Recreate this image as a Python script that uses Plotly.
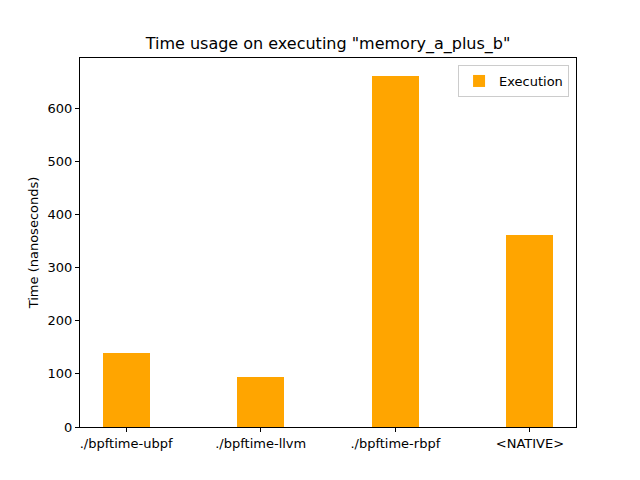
import plotly.graph_objects as go

categories = ["./bpftime-ubpf", "./bpftime-llvm", "./bpftime-rbpf", "<NATIVE>"]
execution = [139, 94, 662, 361]
y_ticks = [0, 100, 200, 300, 400, 500, 600]

positions = list(range(len(categories)))
ymax = max(execution) * 1.05

fig = go.Figure()
fig.add_trace(go.Bar(
    x=positions, y=execution, width=0.35, name="Execution",
    marker=dict(color="orange", line=dict(width=0)),
))

font = "DejaVu Sans"
fig.update_layout(
    width=640, height=480,
    margin=dict(l=72, r=72, t=50, b=61, autoexpand=False),
    paper_bgcolor="white", plot_bgcolor="white",
    font=dict(family=font, size=13, color="black"),
    title=dict(text='Time usage on executing "memory_a_plus_b"', x=0.5, xanchor="center",
               y=1 - 35 / 480, yanchor="middle", font=dict(size=16, family=font)),
    showlegend=True,
    legend=dict(x=0.986, y=0.981, xanchor="right", yanchor="top",
                bgcolor="rgba(255,255,255,0.8)", bordercolor="#cccccc", borderwidth=1,
                font=dict(size=13, family=font), itemwidth=30),
    bargap=0,
)
fig.update_xaxes(
    range=[-0.3425, 3.3425], tickmode="array", tickvals=positions, ticktext=categories,
    tickfont=dict(size=13, family=font),
    showline=True, linecolor="black", linewidth=1, mirror=True, showgrid=False,
    ticks="outside", ticklen=4, tickcolor="black", zeroline=False, automargin=False,
)
fig.update_yaxes(
    range=[0, ymax], tickmode="array", tickvals=y_ticks,
    tickfont=dict(size=13, family=font),
    title=dict(text="Time (nanoseconds)", standoff=6, font=dict(size=13, family=font)),
    showline=True, linecolor="black", linewidth=1, mirror=True, showgrid=False,
    ticks="outside", ticklen=4, tickcolor="black", zeroline=False, automargin=False,
)
fig.write_html("out.html")
